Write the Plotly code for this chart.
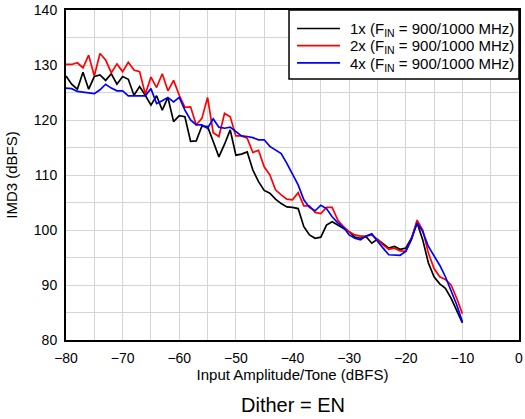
import plotly.graph_objects as go

# Input amplitude per tone (dBFS), 1 dB steps
amplitude = list(range(-80, -9))

imd3_1x = [128.0, 126.5, 125.6, 128.7, 125.6, 127.9, 128.2, 127.2, 128.4, 126.5,
           127.9, 127.4, 124.5, 126.1, 124.5, 122.7, 124.4, 121.8, 124.1, 119.7,
           120.8, 120.6, 116.1, 116.2, 118.9, 118.8, 116.1, 113.3, 115.6, 118.2,
           113.6, 113.8, 114.2, 110.9, 108.8, 107.2, 106.7, 105.6, 104.8, 104.2,
           104.1, 103.9, 100.6, 99.1, 98.5, 98.7, 100.9, 101.5, 100.9, 100.3,
           99.7, 98.7, 98.5, 98.8, 97.6, 98.3, 97.5, 96.7, 97.0, 96.5,
           96.7, 98.5, 101.3, 98.2, 94.0, 91.5, 90.2, 89.4, 87.6, 85.5,
           83.1]

imd3_2x = [130.1, 130.1, 130.4, 129.5, 131.8, 128.0, 132.1, 130.9, 128.6, 130.2,
           128.8, 130.5, 129.1, 128.8, 124.7, 127.8, 125.9, 128.4, 125.3, 127.2,
           124.5, 122.3, 122.4, 119.1, 120.3, 124.1, 117.7, 117.0, 121.2, 120.6,
           117.1, 117.1, 116.7, 114.1, 114.5, 111.5, 110.0, 107.3, 106.4, 105.6,
           105.5, 106.8, 104.4, 104.4, 103.2, 103.0, 104.1, 104.1, 101.8, 100.6,
           99.7, 99.1, 98.9, 98.9, 99.1, 98.3, 97.3, 96.5, 96.7, 96.2,
           96.1, 98.3, 101.8, 100.0, 95.8, 93.0, 91.5, 91.0, 90.0, 87.6,
           84.8]

imd3_4x = [125.8, 125.7, 125.2, 125.1, 125.0, 124.8, 125.5, 126.5, 125.8, 125.3,
           125.3, 124.4, 124.4, 124.4, 124.4, 125.7, 123.0, 123.5, 124.1, 123.3,
           124.1, 121.8, 120.0, 119.1, 119.1, 118.5, 120.2, 118.7, 118.5, 118.7,
           117.9, 117.1, 117.0, 116.8, 116.4, 116.4, 115.2, 114.5, 113.9, 112.1,
           110.2, 108.2, 105.5, 104.1, 103.5, 104.5, 103.9, 102.4, 101.3, 100.5,
           99.1, 98.5, 98.2, 98.9, 99.3, 97.9, 96.7, 95.5, 95.4, 95.4,
           96.1, 98.3, 101.3, 99.7, 97.0, 95.3, 93.6, 91.5, 89.1, 86.4,
           83.3]

series = (
    {"data": imd3_1x, "name": "1x (F<sub>IN</sub> = 900/1000 MHz)", "color": "#000000"},
    {"data": imd3_2x, "name": "2x (F<sub>IN</sub> = 900/1000 MHz)", "color": "#ff0000"},
    {"data": imd3_4x, "name": "4x (F<sub>IN</sub> = 900/1000 MHz)", "color": "#0000ff"},
)

fig = go.Figure()
for s in series:
    fig.add_trace(go.Scatter(
        x=amplitude,
        y=s["data"],
        name=s["name"],
        mode="lines",
        line=dict(color=s["color"], width=1.7),
        showlegend=False,
    ))

grid_color = "#d4d4d4"
font = "Liberation Sans, Arial, sans-serif"

fig.update_layout(
    width=525,
    height=419,
    margin=dict(l=66, r=6, t=10, b=79),
    plot_bgcolor="white",
    paper_bgcolor="white",
    font=dict(family=font, size=14, color="#000000"),
    xaxis=dict(
        range=[-80, 0],
        dtick=10,
        tick0=-80,
        automargin=False,
        showgrid=True,
        gridcolor=grid_color,
        gridwidth=1,
        minor=dict(dtick=5, showgrid=True, gridcolor=grid_color, gridwidth=1),
        showline=True,
        linecolor="#000000",
        linewidth=2,
        mirror=True,
        ticks="",
        ticklabelstandoff=4,
        zeroline=False,
        title=dict(text="Input Amplitude/Tone (dBFS)", standoff=0,
                   font=dict(size=15)),
    ),
    yaxis=dict(
        range=[80, 140],
        dtick=10,
        automargin=False,
        showgrid=True,
        gridcolor=grid_color,
        gridwidth=1,
        minor=dict(dtick=5, showgrid=True, gridcolor=grid_color, gridwidth=1),
        showline=True,
        linecolor="#000000",
        linewidth=2,
        mirror=True,
        ticks="",
        ticklabelstandoff=4,
        zeroline=False,
        title=dict(text="IMD3 (dBFS)", standoff=13, font=dict(size=15)),
    ),
)

# Legend drawn by hand so its rows sit as tight as in the original
fig.add_shape(type="rect", xref="paper", yref="paper",
              x0=0.4923, x1=1.0, y0=0.7909, y1=1.0,
              line=dict(color="#000000", width=1.5), fillcolor="white", layer="above")
row_y = [0.944, 0.892, 0.840]
for s, yy in zip(series, row_y):
    fig.add_shape(type="line", xref="paper", yref="paper",
                  x0=0.510, x1=0.605, y0=yy, y1=yy,
                  line=dict(color=s["color"], width=1.7), layer="above")
    fig.add_annotation(text=s["name"], xref="paper", yref="paper",
                       x=0.622, y=yy - 0.004, xanchor="left", yanchor="middle",
                       showarrow=False, font=dict(size=15, family=font))

fig.add_annotation(
    text="Dither = EN",
    xref="paper", yref="paper",
    x=0.5, y=-0.158,
    xanchor="center", yanchor="top",
    showarrow=False,
    font=dict(size=20, family=font),
)

fig.write_html("out.html", config={"displayModeBar": False},
               post_script="document.body.style.margin='0';")
